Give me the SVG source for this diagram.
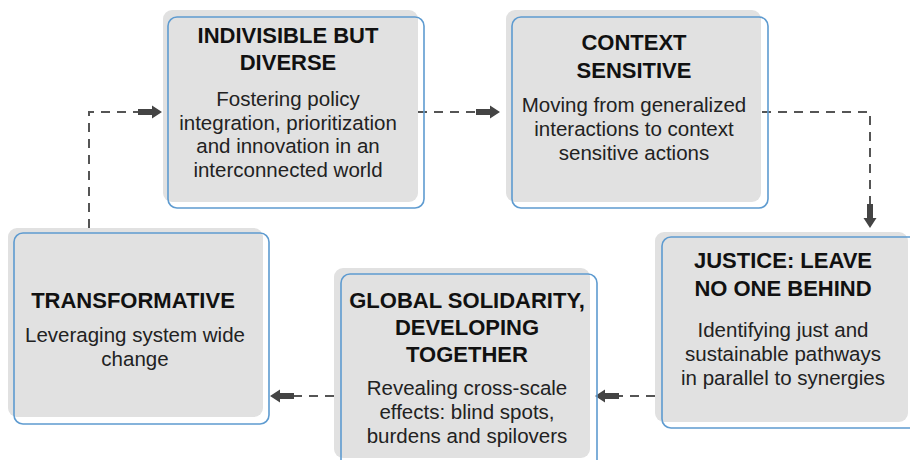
<svg xmlns="http://www.w3.org/2000/svg" width="910" height="460" viewBox="0 0 910 460">
<defs>
<style>
.bg{fill:#e1e1e1;}
.ol{fill:none;stroke:#5e9bd0;stroke-width:1.6;}
.t{font-family:"Liberation Sans",Arial,sans-serif;font-weight:700;font-size:22px;fill:#111;text-anchor:middle;}
.b{font-family:"Liberation Sans",Arial,sans-serif;font-size:20.5px;fill:#222;text-anchor:middle;}
.c{fill:none;stroke:#555;stroke-width:2;stroke-dasharray:9 7;}
.ah{fill:#444;}
</style>
<path id="arr" d="M0,0 L-10,-6.5 L-10,-3 L-24,-3 L-24,3 L-10,3 L-10,6.5 Z"/>
</defs>
<rect width="910" height="460" fill="#fff"/>

<g id="connectors">
<path class="c" d="M89,228 V112 H140"/>
<use href="#arr" class="ah" transform="translate(162,112)"/>
<path class="c" d="M418,112 H478"/>
<use href="#arr" class="ah" transform="translate(500,112)"/>
<path class="c" d="M762,112 H870 V206"/>
<use href="#arr" class="ah" transform="translate(870,228) rotate(90)"/>
<path class="c" d="M655,396 H617"/>
<use href="#arr" class="ah" transform="translate(595,396) rotate(180)"/>
<path class="c" d="M334,396 H292"/>
<use href="#arr" class="ah" transform="translate(270,396) rotate(180)"/>
</g>

<g id="node-indivisible">
<rect class="bg" x="163" y="10" width="255" height="192" rx="9"/>
<rect class="ol" x="168" y="17" width="256" height="191" rx="9"/>
<text class="t" x="288" y="43">INDIVISIBLE BUT</text>
<text class="t" x="288" y="70">DIVERSE</text>
<text class="b" x="288" y="106">Fostering policy</text>
<text class="b" x="288" y="130">integration, prioritization</text>
<text class="b" x="288" y="153">and innovation in an</text>
<text class="b" x="288" y="177">interconnected world</text>
</g>

<g id="node-context">
<rect class="bg" x="506" y="10" width="255" height="192" rx="9"/>
<rect class="ol" x="512" y="17" width="256" height="191" rx="9"/>
<text class="t" x="634" y="50">CONTEXT</text>
<text class="t" x="634" y="78">SENSITIVE</text>
<text class="b" x="634" y="112">Moving from generalized</text>
<text class="b" x="634" y="136">interactions to context</text>
<text class="b" x="634" y="160">sensitive actions</text>
</g>

<g id="node-justice">
<rect class="bg" x="655" y="232" width="253" height="190" rx="9"/>
<rect class="ol" x="662" y="237" width="260" height="191" rx="9"/>
<text class="t" x="783" y="268">JUSTICE: LEAVE</text>
<text class="t" x="783" y="296">NO ONE BEHIND</text>
<text class="b" x="783" y="337">Identifying just and</text>
<text class="b" x="783" y="361">sustainable pathways</text>
<text class="b" x="783" y="385">in parallel to synergies</text>
</g>

<g id="node-global">
<rect class="bg" x="334" y="268" width="256" height="190" rx="9"/>
<rect class="ol" x="341" y="274" width="256" height="195" rx="9"/>
<text class="t" x="467" y="308">GLOBAL SOLIDARITY,</text>
<text class="t" x="467" y="335">DEVELOPING</text>
<text class="t" x="467" y="362">TOGETHER</text>
<text class="b" x="467" y="395">Revealing cross-scale</text>
<text class="b" x="467" y="419">effects: blind spots,</text>
<text class="b" x="467" y="443">burdens and spilovers</text>
</g>

<g id="node-transformative">
<rect class="bg" x="8" y="228" width="255" height="189" rx="9"/>
<rect class="ol" x="14" y="233" width="255" height="191" rx="9"/>
<text class="t" x="133" y="308">TRANSFORMATIVE</text>
<text class="b" x="135" y="342">Leveraging system wide</text>
<text class="b" x="135" y="366">change</text>
</g>
</svg>
